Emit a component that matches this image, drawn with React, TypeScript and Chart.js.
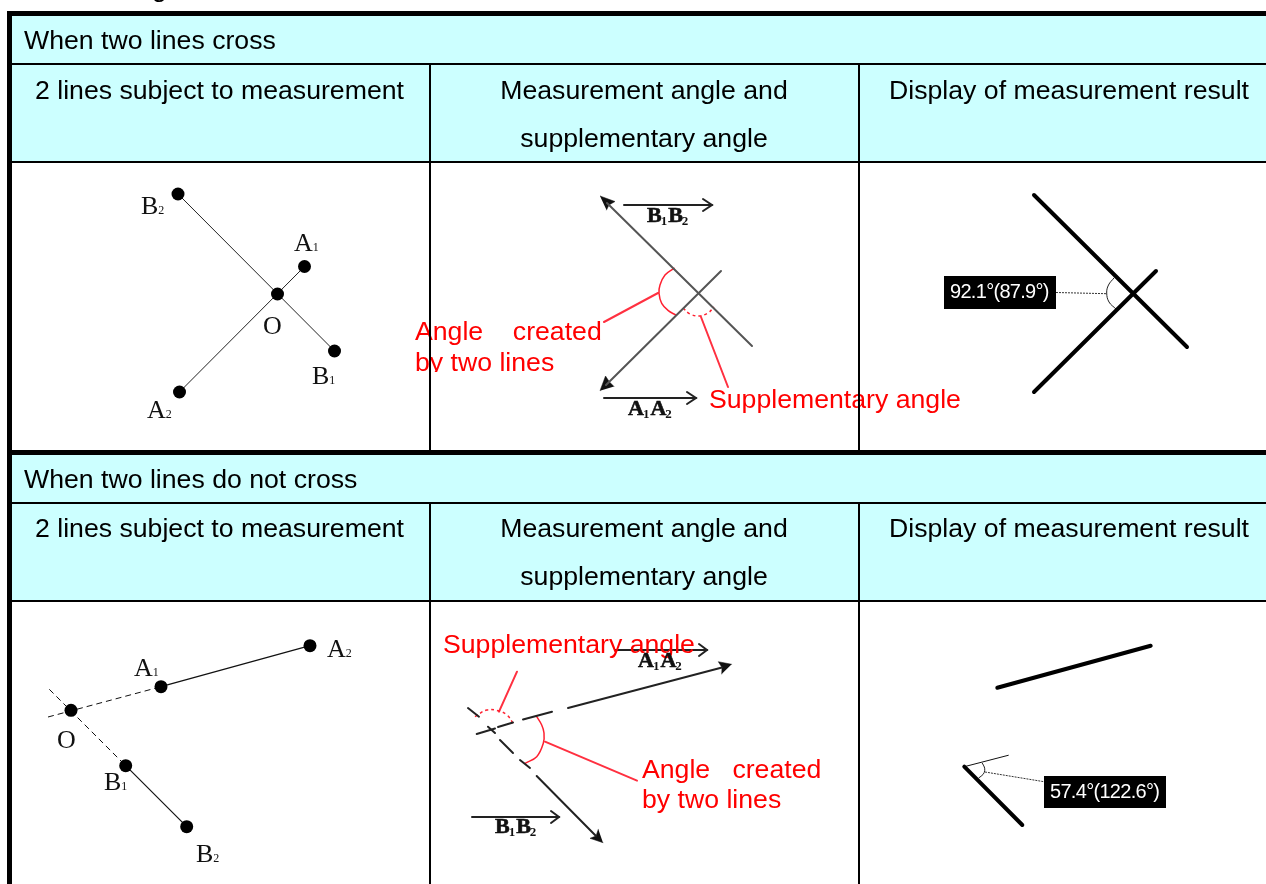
import React, { useEffect, useRef } from "react";
import { Chart, registerables } from "chart.js";

Chart.register(...registerables);

type P = [number, number];

const W = 1266;
const H = 884;

const CYAN = "#ccffff";
const RED = "#ff0000";
const SANS = '"Liberation Sans", Arial, sans-serif';
const SERIF = '"Liberation Serif", "Times New Roman", serif';

// Cyan header bands: [left, top, right, bottom]
const headerBands: number[][] = [
  [12, 16, 1266, 161],
  [12, 455, 1266, 600],
];

// Table rules
const thickRules: P[][] = [
  [[7, 13.5], [1266, 13.5]],
  [[9.5, 11], [9.5, 884]],
  [[7, 452.5], [1266, 452.5]],
];
const thinRules: P[][] = [
  [[12, 64], [1266, 64]],
  [[12, 162], [1266, 162]],
  [[12, 503], [1266, 503]],
  [[12, 601], [1266, 601]],
  [[430, 64], [430, 451]],
  [[859, 64], [859, 451]],
  [[430, 503], [430, 884]],
  [[859, 503], [859, 884]],
];

// Panel 1: crossing lines with named points
const crossLineA: P[] = [[304.5, 266.5], [179.5, 392]];
const crossLineB: P[] = [[178, 194], [334.5, 351]];
const crossDots: P[] = [[178, 194], [304.5, 266.5], [277.5, 294], [334.5, 351], [179.5, 392]];

// Panel 2: crossing lines with arrows
const arrowLines: P[][] = [
  [[607, 203], [752, 346]],
  [[721, 271], [606, 385]],
];
const arrowHeads: P[][] = [
  [[600, 196], [615, 201.5], [609, 205], [606.5, 210]],
  [[600, 390.7], [605.5, 376], [609.5, 382], [614, 386.5]],
];
const overArrows: P[][] = [
  [[624, 205], [712, 205]],
  [[703, 199], [712, 205], [703, 211]],
  [[604, 398], [696, 398]],
  [[687, 392], [696, 398], [687, 404]],
  [[615, 650], [707, 650]],
  [[699, 644], [707, 650], [699, 656]],
  [[472, 817], [559, 817]],
  [[551, 811], [559, 817], [551, 823]],
];
const angleArc1: P[] = [
  [674, 268.3], [665, 275], [660, 285], [659, 293.3], [661.7, 303.3], [668.3, 310.7], [675.7, 315],
];
const suppArc1: P[] = [[683, 308], [690, 314], [699, 316], [708, 313], [714, 307]];
const redLeaders1: P[][] = [
  [[658, 293], [604, 322]],
  [[701, 317], [728, 387]],
];

// Panel 3: result display
const resultLines1: P[][] = [
  [[1034, 195], [1187, 347]],
  [[1156, 271], [1034, 392]],
];
const resultArc1: P[] = [[1114, 278], [1108.5, 285], [1106.7, 293], [1109, 302], [1116, 309]];
const resultLeader1: P[] = [[1056, 292.5], [1106.7, 293.7]];

// Panel 4: lines that do not cross
const openLineA: P[] = [[161, 686.7], [310, 645.7]];
const openLineB: P[] = [[125.7, 765.7], [186.7, 826.7]];
const openDashes: P[][] = [
  [[48, 717], [161, 686.7]],
  [[49.3, 689.3], [125.7, 765.7]],
];
const openDots: P[] = [[310, 645.7], [161, 686.7], [71, 710.3], [125.7, 765.7], [186.7, 826.7]];

// Panel 5: extended lines
const brokenLines: P[][] = [
  [[476.7, 734], [495, 728.5]],
  [[498, 727], [513, 722.5]],
  [[523, 719.5], [552, 711.7]],
  [[568, 708], [722, 667.5]],
  [[468, 708], [479, 716.7]],
  [[488, 726.7], [495, 733]],
  [[500, 740], [513, 753]],
  [[520, 760], [530, 768]],
  [[536.7, 776], [596, 836]],
];
const brokenHeads: P[][] = [
  [[731.7, 664.3], [718.3, 661.7], [722, 667.5], [721.7, 674]],
  [[603, 842.7], [590, 838.3], [596, 836], [598.3, 829.3]],
];
const angleArc2: P[] = [
  [536.7, 716.7], [541.7, 725], [544, 733], [543.3, 743.3], [536.7, 756.7], [525, 763.3],
];
const suppArc2: P[] = [[475, 716.7], [486.7, 710], [498, 710.7], [507, 715], [513, 723]];
const redLeaders2: P[][] = [
  [[545, 741.7], [637, 780.7]],
  [[499, 711.7], [517, 671.7]],
];

// Panel 6: result display
const resultLines2: P[][] = [
  [[997.3, 687.7], [1150.7, 645.7]],
  [[964.3, 766.7], [1022.3, 825]],
];
const resultThin2: P[] = [[964.3, 766.7], [1008.3, 755.3]];
const resultArc2: P[] = [[982.3, 763.3], [984.3, 767], [984.7, 770.7], [983, 774.5], [979, 777.7]];
const resultLeader2: P[] = [[985, 772], [1044, 781.7]];

// Black result boxes: [left, top, right, bottom]
const resultBoxes: number[][] = [
  [944, 276, 1056, 309],
  [1044, 776, 1166, 808],
];

// Text: [text, x, baseline]
const headerLeft: [string, number, number][] = [
  ["When two lines cross", 24, 49],
  ["2 lines subject to measurement", 35, 99],
  ["When two lines do not cross", 24, 488],
  ["2 lines subject to measurement", 35, 537],
];
const headerCentre: [string, number, number][] = [
  ["Measurement angle and", 644, 99],
  ["supplementary angle", 644, 147],
  ["Display of measurement result", 1069, 99],
  ["Measurement angle and", 644, 537],
  ["supplementary angle", 644, 585],
  ["Display of measurement result", 1069, 537],
];
const redText: [string, number, number][] = [
  ["Angle    created", 415, 340],
  ["Supplementary angle", 709, 408],
  ["Supplementary angle", 443, 653],
  ["Angle   created", 642, 778],
  ["by two lines", 642, 808],
];
const clippedRedText: [string, number, number, number][] = [["by two lines", 415, 371, 372]];

// Serif point names: [name, subscript, x, baseline]
const pointNames: [string, string, number, number][] = [
  ["B", "2", 141, 214],
  ["A", "1", 294, 251],
  ["O", "", 263, 334],
  ["B", "1", 312, 384],
  ["A", "2", 147, 418],
  ["A", "1", 134, 676],
  ["A", "2", 327, 657],
  ["O", "", 57, 748],
  ["B", "1", 104, 790],
  ["B", "2", 196, 862],
];
// Bold labels under the direction arrows: [first, sub, second, sub, x, baseline]
const vectorNames: [string, string, string, string, number, number][] = [
  ["B", "1", "B", "2", 647, 222],
  ["A", "1", "A", "2", 628, 415],
  ["A", "1", "A", "2", 638, 667],
  ["B", "1", "B", "2", 495, 833],
];
const resultTexts: [string, number, number][] = [
  ["92.1°(87.9°)", 950, 298],
  ["57.4°(122.6°)", 1050, 798],
];
const croppedTitle: [string, number, number][] = [["g", 152, -3]];

const pts = (list: P[]) => list.map(([x, y]) => ({ x, y }));

function line(data: P[], color: string, width: number, extra: Record<string, unknown> = {}) {
  return {
    type: "scatter" as const,
    data: pts(data),
    showLine: true,
    borderColor: color,
    backgroundColor: color,
    borderWidth: width,
    pointRadius: 0,
    pointHoverRadius: 0,
    borderCapStyle: "round" as const,
    fill: false,
    ...extra,
  };
}

// Chart.js paints the first dataset last, so the table rules come first (on top).
const ruleMarks = [
  ...thinRules.map((d) => line(d, "#000", 2, { borderCapStyle: "butt" })),
  ...thickRules.map((d) => line(d, "#000", 5, { borderCapStyle: "butt" })),
];

const marks = [
  ...ruleMarks,
  {
    type: "scatter" as const,
    data: pts([...crossDots, ...openDots]),
    showLine: false,
    pointRadius: 6.5,
    pointHoverRadius: 6.5,
    pointBorderWidth: 0,
    pointBackgroundColor: "#000",
    backgroundColor: "#000",
  },
  line(crossLineA, "#222", 1),
  line(crossLineB, "#222", 1),
  ...arrowLines.map((d) => line(d, "#555", 2)),
  ...arrowHeads.map((d) => line(d, "#111", 0.5, { fill: "shape" })),
  ...overArrows.map((d) => line(d, "#222", 2)),
  line(angleArc1, "#ff2030", 1.5, { tension: 0.4 }),
  line(suppArc1, "#ff2030", 1.5, { tension: 0.4, borderDash: [3, 3], borderCapStyle: "butt" }),
  ...redLeaders1.map((d) => line(d, "#ff3040", 2)),
  ...resultLines1.map((d) => line(d, "#000", 4)),
  line(resultArc1, "#222", 1, { tension: 0.4 }),
  line(resultLeader1, "#333", 1, { borderDash: [2, 1], borderCapStyle: "butt" }),

  line(openLineA, "#111", 1.2),
  line(openLineB, "#111", 1.2),
  ...openDashes.map((d) => line(d, "#111", 1, { borderDash: [6, 4], borderCapStyle: "butt" })),
  ...brokenLines.map((d) => line(d, "#222", 2)),
  ...brokenHeads.map((d) => line(d, "#111", 0.5, { fill: "shape" })),
  line(angleArc2, "#ff2030", 1.5, { tension: 0.4 }),
  line(suppArc2, "#ff2030", 1.5, { tension: 0.4, borderDash: [3, 3], borderCapStyle: "butt" }),
  ...redLeaders2.map((d) => line(d, "#ff3040", 2)),
  ...resultLines2.map((d) => line(d, "#000", 4)),
  line(resultThin2, "#111", 1),
  line(resultArc2, "#222", 1, { tension: 0.4 }),
  line(resultLeader2, "#333", 1, { borderDash: [2, 1], borderCapStyle: "butt" }),
];

const tablePlugin = {
  id: "tableContent",
  beforeDatasetsDraw(chart: any) {
    const { ctx, scales } = chart;
    const X = (v: number) => scales.x.getPixelForValue(v);
    const Y = (v: number) => scales.y.getPixelForValue(v);
    ctx.save();
    ctx.fillStyle = CYAN;
    headerBands.forEach(([l, t, r, b]) => ctx.fillRect(X(l), Y(t), X(r) - X(l), Y(b) - Y(t)));
    ctx.textBaseline = "alphabetic";
    ctx.font = `26.67px ${SANS}`;
    ctx.fillStyle = "#000";
    ctx.textAlign = "left";
    [...croppedTitle, ...headerLeft].forEach(([t, x, y]) => ctx.fillText(t, X(x), Y(y)));
    ctx.textAlign = "center";
    headerCentre.forEach(([t, x, y]) => ctx.fillText(t, X(x), Y(y)));
    ctx.restore();
  },
  // Red callouts sit above the panel drawings but under the table rules.
  beforeDatasetDraw(chart: any, args: any) {
    if (args.index !== ruleMarks.length - 1) return;
    const { ctx, scales } = chart;
    const X = (v: number) => scales.x.getPixelForValue(v);
    const Y = (v: number) => scales.y.getPixelForValue(v);
    ctx.save();
    ctx.textBaseline = "alphabetic";
    ctx.textAlign = "left";
    ctx.font = `26.67px ${SANS}`;
    ctx.fillStyle = RED;
    redText.forEach(([t, x, y]) => ctx.fillText(t, X(x), Y(y)));
    clippedRedText.forEach(([t, x, y, clip]) => {
      ctx.save();
      ctx.beginPath();
      ctx.rect(X(x), 0, 400, Y(clip));
      ctx.clip();
      ctx.fillText(t, X(x), Y(y));
      ctx.restore();
    });
    ctx.restore();
  },
  afterDatasetsDraw(chart: any) {
    const { ctx, scales } = chart;
    const X = (v: number) => scales.x.getPixelForValue(v);
    const Y = (v: number) => scales.y.getPixelForValue(v);
    ctx.save();
    ctx.textBaseline = "alphabetic";
    ctx.textAlign = "left";
    ctx.fillStyle = "#111";
    pointNames.forEach(([n, s, x, y]) => {
      ctx.font = `26px ${SERIF}`;
      ctx.fillText(n, X(x), Y(y));
      const w = ctx.measureText(n).width;
      ctx.font = `12px ${SERIF}`;
      ctx.fillText(s, X(x) + w, Y(y));
    });
    ctx.save();
    ctx.filter = "blur(0.5px)";
    ctx.strokeStyle = "#111";
    ctx.lineWidth = 0.6;
    vectorNames.forEach(([a, s1, b, s2, x, y]) => {
      let cx = X(x);
      [[a, s1], [b, s2]].forEach(([n, s]) => {
        ctx.font = `bold 22px ${SERIF}`;
        ctx.fillText(n, cx, Y(y));
        ctx.strokeText(n, cx, Y(y));
        cx += ctx.measureText(n).width - 1;
        ctx.font = `bold 13px ${SERIF}`;
        ctx.fillText(s, cx, Y(y) + 3);
        cx += ctx.measureText(s).width + 1;
      });
    });
    ctx.restore();
    ctx.fillStyle = "#000";
    resultBoxes.forEach(([l, t, r, b]) => ctx.fillRect(X(l), Y(t), X(r) - X(l), Y(b) - Y(t)));
    ctx.fillStyle = "#fff";
    ctx.font = `20px ${SANS}`;
    ctx.letterSpacing = "-0.7px";
    resultTexts.forEach(([t, x, y]) => ctx.fillText(t, X(x), Y(y)));
    ctx.restore();
  },
};

export default function App() {
  const ref = useRef<HTMLCanvasElement>(null);
  useEffect(() => {
    const chart = new Chart(ref.current as HTMLCanvasElement, {
      type: "scatter",
      data: { datasets: marks as any },
      options: {
        animation: false,
        responsive: false,
        devicePixelRatio: 1,
        layout: { padding: 0, autoPadding: false },
        events: [],
        scales: {
          x: { type: "linear", min: 0, max: W, display: false },
          y: { type: "linear", min: 0, max: H, reverse: true, display: false },
        },
        plugins: { legend: { display: false }, tooltip: { enabled: false }, title: { display: false } },
      },
      plugins: [tablePlugin],
    });
    return () => chart.destroy();
  }, []);
  return (
    <div style={{ position: "absolute", left: 0, top: 0, width: W, height: H, overflow: "hidden", background: "#fff" }}>
      <canvas ref={ref} width={W} height={H} style={{ display: "block" }} />
    </div>
  );
}
